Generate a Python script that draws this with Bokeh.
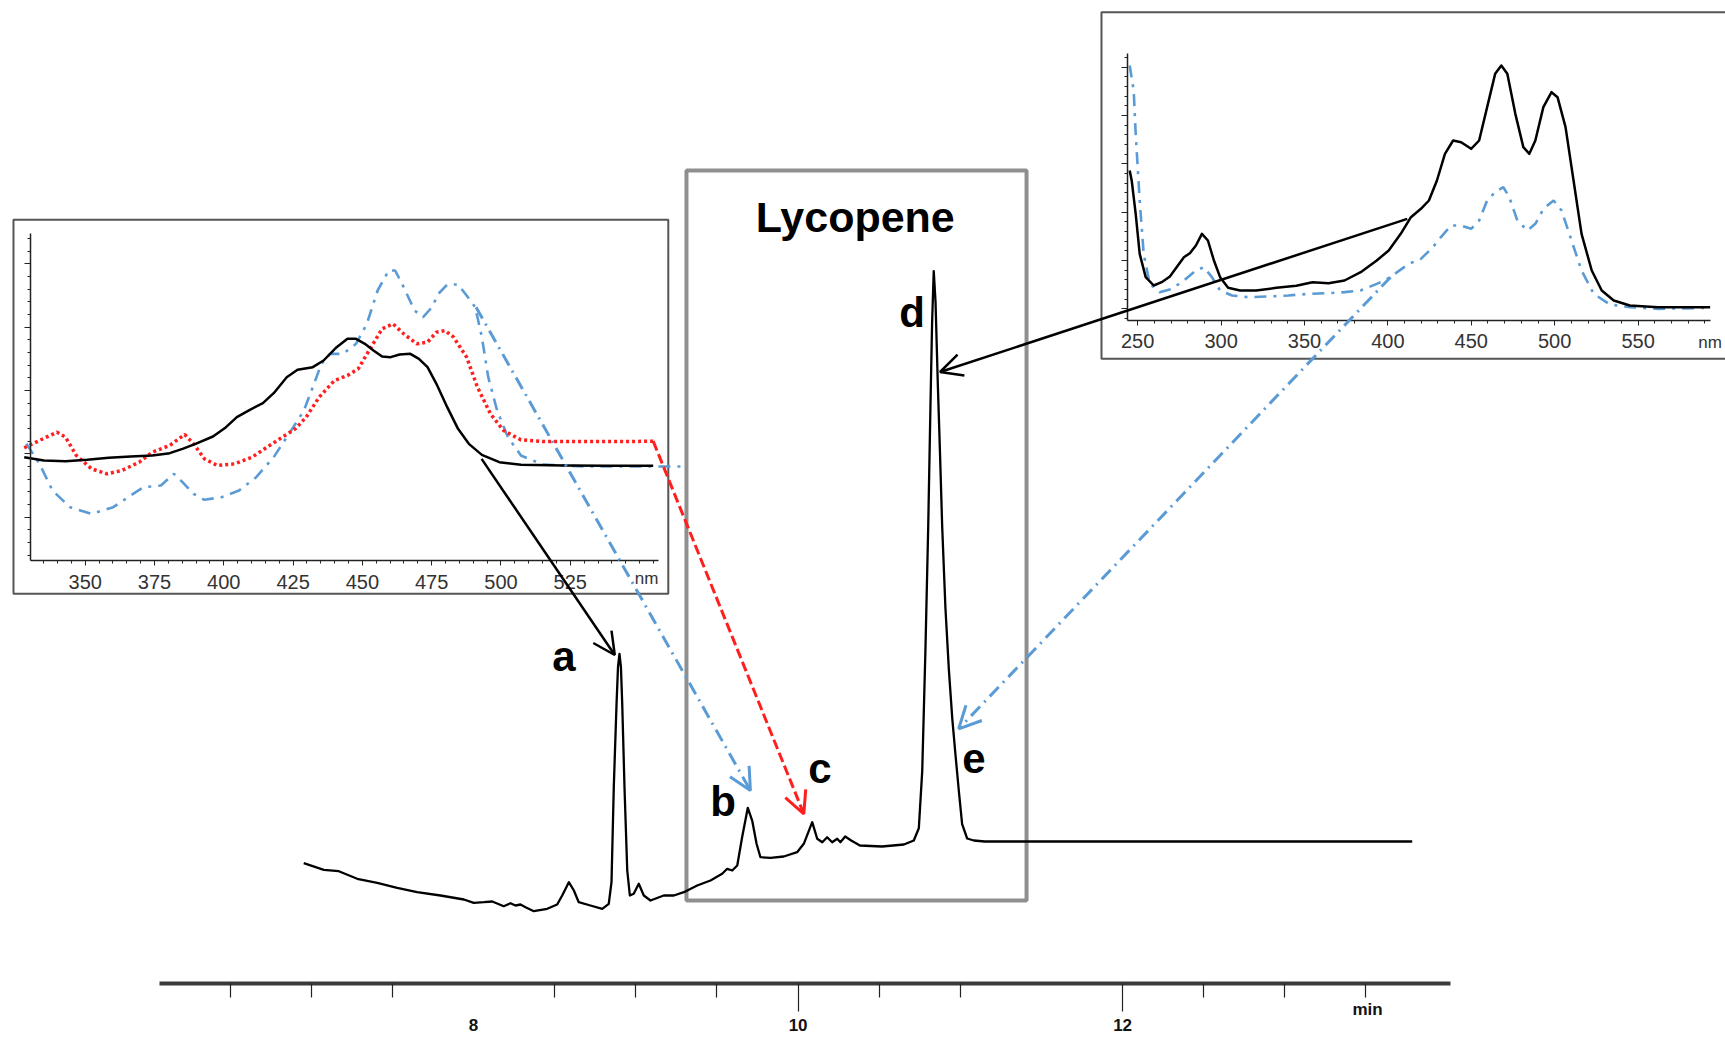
from bokeh.plotting import figure
from bokeh.models import Range1d, LinearAxis, FixedTicker, Arrow, OpenHead
from bokeh.core.properties import value
from bokeh.embed import file_html
from bokeh.resources import INLINE

# ---------------- data ----------------
# HPLC chromatogram (retention time in min, signal in mAU, baseline = 0)
rt_min = [6.953, 7.077, 7.169, 7.283, 7.406, 7.529, 7.652, 7.796, 7.940, 8.001, 8.063, 8.115,
          8.186, 8.227, 8.258, 8.289, 8.320, 8.371, 8.454, 8.515, 8.546, 8.587, 8.618, 8.648,
          8.720, 8.793, 8.833, 8.850, 8.864, 8.881, 8.890, 8.899, 8.908, 8.916, 8.930, 8.947,
          8.963, 8.987, 9.018, 9.049, 9.090, 9.172, 9.234, 9.296, 9.378, 9.460, 9.532, 9.563,
          9.594, 9.625, 9.655, 9.690, 9.717, 9.744, 9.768, 9.830, 9.912, 9.994, 10.035, 10.087,
          10.118, 10.149, 10.179, 10.210, 10.241, 10.261, 10.290, 10.327, 10.381, 10.517, 10.652,
          10.713, 10.744, 10.765, 10.785, 10.802, 10.816, 10.826, 10.836, 10.847, 10.861, 10.873,
          10.888, 10.908, 10.929, 10.950, 10.970, 10.991, 11.011, 11.042, 11.083, 11.150, 13.785]
signal_mau = [-21.2, -27.8, -29.2, -36.8, -40.8, -45.8, -50.2, -53.5, -57.5, -60.8, -60.2, -59.5,
              -64.2, -61.2, -63.5, -62.5, -65.2, -69.2, -66.8, -62.5, -53.5, -40.2, -48.5, -60.2,
              -63.5, -66.8, -61.8, -40.0, 54.8, 138.2, 175.0, 188.2, 175.0, 138.2, 54.8, -28.5,
              -53.5, -51.8, -41.8, -53.5, -58.5, -53.5, -53.5, -50.2, -43.5, -38.5, -31.8, -26.8,
              -28.5, -23.5, 4.8, 34.2, 21.5, -1.8, -15.2, -15.8, -14.5, -10.2, -1.8, 19.8,
              3.2, -0.2, 4.8, -0.2, 3.2, -0.2, 5.5, 1.5, -3.5, -4.5, -2.5,
              1.5, 13.7, 70.9, 193.3, 315.8, 438.2, 519.9, 570.9, 540.3, 458.6, 397.4,
              315.8, 234.2, 172.9, 123.9, 87.2, 50.5, 17.8, 3.5, 1.5, 0.5, 0.5]

# Left inset: UV-Vis spectra of peaks a (black), b (blue), c (red)
spec_a_nm = [328.0, 335.1, 342.9, 350.7, 358.5, 366.4, 374.2, 380.5, 385.1, 389.8, 396.1, 400.8,
             404.7, 409.4, 414.1, 418.0, 422.7, 426.6, 432.1, 436.0, 440.7, 444.6, 447.7, 450.9,
             454.0, 457.1, 460.2, 463.4, 467.3, 470.4, 473.5, 476.7, 480.6, 484.5, 488.4, 493.1,
             499.4, 507.2, 522.8, 538.5, 554.9]
spec_a_abs = [31.0, 30.0, 29.8, 30.2, 30.8, 31.2, 31.5, 32.2, 33.5, 35.0, 37.2, 40.0,
              43.0, 45.2, 47.2, 50.2, 55.0, 57.2, 58.0, 60.0, 64.0, 66.5, 66.5, 65.0,
              63.0, 61.2, 61.0, 61.8, 62.0, 60.5, 58.0, 53.0, 46.0, 39.5, 35.0, 31.7,
              29.5, 28.7, 28.5, 28.4, 28.4]
spec_c_nm = [328.0, 333.5, 339.8, 342.9, 346.8, 352.3, 357.8, 363.2, 369.5, 374.2, 380.5, 385.9,
             389.1, 393.0, 397.7, 403.9, 410.2, 415.6, 421.1, 425.8, 429.7, 434.4, 439.9, 444.6,
             448.5, 452.4, 457.1, 461.0, 464.9, 469.6, 473.5, 476.7, 479.8, 482.9, 487.6, 491.5,
             496.2, 500.9, 507.2, 515.0, 530.6, 546.3, 554.9]
spec_c_abs = [33.8, 36.0, 38.5, 37.0, 31.5, 27.5, 26.0, 27.0, 29.5, 32.5, 34.5, 37.8,
              35.0, 30.5, 28.5, 29.0, 31.0, 34.0, 37.0, 39.5, 43.0, 49.0, 54.0, 55.5,
              57.5, 63.0, 69.5, 71.0, 68.0, 65.0, 65.5, 68.5, 69.0, 67.0, 61.0, 52.0,
              44.0, 39.0, 36.2, 35.7, 35.7, 35.7, 35.8]
spec_b_nm = [328.8, 333.5, 338.2, 344.5, 352.3, 360.1, 366.4, 371.1, 377.3, 382.0, 385.1, 389.1,
             393.0, 399.2, 405.5, 411.7, 418.0, 424.3, 428.9, 432.1, 435.2, 438.3, 443.0, 447.7,
             451.6, 455.5, 459.5, 461.8, 464.9, 468.8, 471.9, 475.1, 477.4, 480.6, 484.5, 487.6,
             490.7, 493.1, 495.4, 498.6, 502.5, 507.2, 515.0, 530.6, 546.3, 554.9, 567.0]
spec_b_abs = [35.0, 29.0, 21.0, 16.0, 14.0, 16.0, 19.5, 22.0, 22.5, 26.0, 23.5, 20.0,
              18.2, 19.0, 21.0, 25.0, 31.0, 39.0, 45.0, 52.0, 59.0, 62.0, 62.0, 65.0,
              71.0, 81.0, 87.0, 87.0, 82.0, 75.0, 73.0, 76.0, 80.0, 82.8, 82.8, 79.5,
              76.0, 67.0, 55.0, 45.0, 37.0, 31.5, 28.8, 28.2, 28.2, 28.2, 28.2]

# Right inset: UV-Vis spectra of peaks d (black, lycopene) and e (blue)
spec_d_nm = [245.2, 246.4, 248.8, 251.2, 254.8, 259.6, 264.4, 269.3, 274.1, 277.7, 281.3, 284.9,
             288.5, 292.1, 295.7, 299.4, 304.2, 311.4, 321.0, 333.1, 345.1, 354.8, 364.4, 374.0,
             383.7, 393.3, 400.5, 407.7, 413.8, 419.8, 424.6, 429.4, 434.2, 439.1, 443.9, 449.9,
             454.7, 459.5, 464.3, 468.0, 471.6, 476.4, 481.2, 484.8, 488.4, 493.2, 498.1, 501.7,
             506.5, 511.3, 516.1, 522.2, 528.2, 535.4, 545.0, 562.0, 593.2]
spec_d_abs = [45.0, 42.0, 32.0, 20.0, 13.0, 10.5, 11.5, 13.2, 16.5, 19.0, 20.2, 22.5,
              26.0, 24.0, 18.0, 13.0, 9.8, 9.0, 9.0, 9.8, 10.4, 11.5, 11.2, 12.0,
              14.5, 18.0, 21.0, 26.0, 31.0, 33.5, 36.0, 42.0, 50.0, 54.0, 53.5, 51.5,
              54.0, 64.0, 74.0, 76.5, 74.0, 62.0, 52.0, 50.0, 54.0, 64.0, 68.5, 67.0,
              58.0, 42.0, 26.0, 15.0, 9.0, 6.0, 4.5, 4.0, 4.0]
spec_e_nm = [245.2, 247.6, 248.8, 251.2, 253.6, 257.2, 263.2, 270.5, 277.7, 284.9, 289.7, 294.5,
             299.4, 306.6, 316.2, 328.3, 340.3, 352.3, 364.4, 374.0, 383.7, 393.3, 398.1, 404.1,
             412.6, 419.8, 427.0, 431.8, 437.9, 443.9, 449.9, 454.7, 459.5, 464.3, 469.2, 472.8,
             477.6, 483.6, 488.4, 493.3, 499.3, 504.1, 510.1, 516.1, 523.4, 533.0, 545.0, 562.0,
             593.2]
spec_e_abs = [76.5, 69.0, 56.0, 36.0, 20.0, 11.0, 8.5, 9.5, 12.0, 15.0, 16.0, 13.0,
              9.0, 7.5, 7.0, 7.2, 7.5, 8.0, 8.2, 8.5, 9.0, 11.0, 12.0, 14.0,
              17.0, 18.5, 22.0, 25.0, 28.5, 28.5, 27.5, 30.0, 36.0, 38.5, 40.0, 37.0,
              30.0, 27.0, 29.0, 33.5, 36.0, 33.0, 24.0, 15.0, 8.0, 4.8, 4.0, 3.5,
              3.8]

# axis ticks / labels
time_labels = [8, 10, 12]
time_long_ticks = [10, 12]
time_short_ticks = [6.5, 7.0, 7.5, 8.5, 9.0, 9.5, 10.5, 11.0, 12.5, 13.0, 13.5]
left_nm_ticks = [350, 375, 400, 425, 450, 475, 500, 525]
right_nm_ticks = [250, 300, 350, 400, 450, 500, 550]

# peak labels (text, retention time, signal at text baseline)
peak_names = ["a", "b", "c", "d", "e"]
peak_label_t = [8.556, 9.538, 10.134, 10.703, 11.083]
peak_label_y = [185.5, 40.5, 73.3, 530.0, 83.5]

# arrow targets on the chromatogram and their spectrum origins
arrow_end_t = [8.870, 9.706, 10.035, 10.875, 10.990]
arrow_end_y = [187.0, 51.5, 28.2, 470.0, 113.2]
arrow_start_nm = [493.0, 491.0, 554.9, 411.6, 401.6]
arrow_start_abs = [30.5, 76.0, 35.8, 30.5, 13.0]
arrow_inset = ["left", "left", "left", "right", "right"]

# lycopene region
lyc_t = [9.312, 11.408]
lyc_y = [-58.5, 671.5]

# ---------------- figure ----------------
FONT_NAME = "Liberation Sans"
FONT = value(FONT_NAME)
BLUE = "#5B9BD5"
RED = "#FF1F1F"

p = figure(width=1725, height=1037, output_backend="svg", toolbar_location=None,
           x_range=Range1d(5.0841, 15.7159), y_range=Range1d(-195.5, 841.5),
           x_axis_type=None, y_axis_type=None, min_border=0,
           background_fill_color="white", border_fill_color="white", outline_line_color=None)
p.extra_x_ranges = {"lnm": Range1d(319.444, 941.74), "rnm": Range1d(-431.77, 602.40)}
p.extra_y_ranges = {"lab": Range1d(-143.1, 168.0), "rab": Range1d(-215.1, 96.0)}

insets = {"left": ("lnm", "lab"), "right": ("rnm", "rab")}


def to_main(x, y, inset):
    xr = p.extra_x_ranges[insets[inset][0]]
    yr = p.extra_y_ranges[insets[inset][1]]
    fx = (x - xr.start) / (xr.end - xr.start)
    fy = (y - yr.start) / (yr.end - yr.start)
    return (p.x_range.start + fx * (p.x_range.end - p.x_range.start),
            p.y_range.start + fy * (p.y_range.end - p.y_range.start))


# inset frames
p.quad(left=[324.13], right=[560.35], bottom=[-10.0], top=[102.2], fill_color="white",
       line_color="#555555", line_width=2, x_range_name="lnm", y_range_name="lab")
p.quad(left=[228.3], right=[611.4], bottom=[-11.5], top=[92.5], fill_color="white",
       line_color="#555555", line_width=2, x_range_name="rnm", y_range_name="rab")

# lycopene box
p.quad(left=[lyc_t[0]], right=[lyc_t[1]], bottom=[lyc_y[0]], top=[lyc_y[1]], fill_alpha=0,
       line_color="#8f8f8f", line_width=4)

# chromatogram
p.line(rt_min, signal_mau, line_color="black", line_width=2.3, line_join="round")

# left inset spectra
p.line(spec_b_nm, spec_b_abs, line_color=BLUE, line_width=2.6, line_dash="12 7 3 7",
       x_range_name="lnm", y_range_name="lab")
p.line(spec_c_nm, spec_c_abs, line_color=RED, line_width=3.5, line_dash="3 3",
       x_range_name="lnm", y_range_name="lab")
p.line(spec_a_nm, spec_a_abs, line_color="black", line_width=2.5, line_join="round",
       x_range_name="lnm", y_range_name="lab")

# right inset spectra
p.line(spec_e_nm, spec_e_abs, line_color=BLUE, line_width=2.6, line_dash="12 7 3 7",
       x_range_name="rnm", y_range_name="rab")
p.line(spec_d_nm, spec_d_abs, line_color="black", line_width=2.5, line_join="round",
       x_range_name="rnm", y_range_name="rab")


def add_axis(side, **kw):
    base = dict(major_tick_in=0, minor_tick_in=0, major_label_text_font=FONT_NAME,
                axis_line_color="#222222", major_tick_line_color="#222222",
                minor_tick_line_color="#222222")
    base.update(kw)
    ax = LinearAxis(**base)
    p.add_layout(ax, side)
    return ax


# left inset axes
add_axis("below", x_range_name="lnm", y_range_name="lab", fixed_location=0, bounds=(330.4, 556.8),
         ticker=FixedTicker(ticks=left_nm_ticks, minor_ticks=[335 + 5 * i for i in range(45)]),
         axis_line_width=1.5, major_tick_out=5, minor_tick_out=3,
         major_label_text_font_size="20px", major_label_text_color="#333333", major_label_standoff=9)
add_axis("left", x_range_name="lnm", y_range_name="lab", fixed_location=330.4, bounds=(0, 98),
         ticker=FixedTicker(ticks=[13, 32, 51, 70, 89], minor_ticks=[1.6 + 3.8 * i for i in range(26)]),
         axis_line_width=1.5, major_tick_out=6, minor_tick_out=3, major_label_text_color=None)

# right inset axes
add_axis("below", x_range_name="rnm", y_range_name="rab", fixed_location=0, bounds=(243.9, 593.3),
         ticker=FixedTicker(ticks=right_nm_ticks, minor_ticks=[260 + 10 * i for i in range(34)]),
         axis_line_width=1.5, major_tick_out=5, minor_tick_out=3,
         major_label_text_font_size="20px", major_label_text_color="#333333", major_label_standoff=8)
add_axis("left", x_range_name="rnm", y_range_name="rab", fixed_location=243.9, bounds=(0, 80),
         ticker=FixedTicker(ticks=[3.5, 18, 32.5, 47, 61.5, 76], minor_ticks=[0.6 + 2.9 * i for i in range(28)]),
         axis_line_width=1.5, major_tick_out=6, minor_tick_out=3, major_label_text_color=None)

# main time axis
add_axis("below", fixed_location=-141, bounds=(6.067, 14.021),
         ticker=FixedTicker(ticks=time_long_ticks), axis_line_width=4, axis_line_color="#3a3a3a",
         major_tick_out=28, major_tick_line_width=1.2, major_label_text_color=None)
add_axis("below", fixed_location=-141, ticker=FixedTicker(ticks=time_short_ticks),
         axis_line_color=None, major_tick_out=14, major_tick_line_width=1.2, major_label_text_color=None)
add_axis("below", fixed_location=-141, ticker=FixedTicker(ticks=time_labels), axis_line_color=None,
         major_tick_line_color=None, major_tick_out=0, major_label_standoff=36,
         major_label_text_font_size="17px", major_label_text_font_style="bold",
         major_label_text_color="#111111")

# texts
p.text(x=[13.51], y=[-167.8], text=["min"], text_font=FONT, text_font_style="bold",
       text_font_size="17px", text_align="center", text_baseline="middle", text_color="#111111")
p.text(x=[552.5], y=[-5.5], text=["nm"], text_font=FONT, text_font_size="17px",
       text_align="center", text_baseline="middle", text_color="#333333",
       x_range_name="lnm", y_range_name="lab")
p.text(x=[593.2], y=[-6.5], text=["nm"], text_font=FONT, text_font_size="17px",
       text_align="center", text_baseline="middle", text_color="#333333",
       x_range_name="rnm", y_range_name="rab")
p.text(x=[10.352], y=[625.0], text=["Lycopene"], text_font=FONT, text_font_style="bold",
       text_font_size="43px", text_align="center", text_baseline="alphabetic", text_color="black")
p.text(x=peak_label_t, y=peak_label_y, text=peak_names, text_font=FONT, text_font_style="bold",
       text_font_size="42px", text_align="center", text_baseline="alphabetic", text_color="black")

# arrows from spectra to peaks
styles = [("black", 2.5, "solid"), (BLUE, 3, "13 6 2 6"), (RED, 3, "10 4"),
          ("black", 2.5, "solid"), (BLUE, 3, "13 6 2 6")]
for i in range(len(peak_names)):
    xs, ys = to_main(arrow_start_nm[i], arrow_start_abs[i], arrow_inset[i])
    col, lw, dash = styles[i]
    p.add_layout(Arrow(x_start=xs, y_start=ys, x_end=arrow_end_t[i], y_end=arrow_end_y[i],
                       line_color=col, line_width=lw, line_dash=dash,
                       end=OpenHead(size=22, line_color=col, line_width=lw)))

open("out.html", "w").write(file_html(p, INLINE))
